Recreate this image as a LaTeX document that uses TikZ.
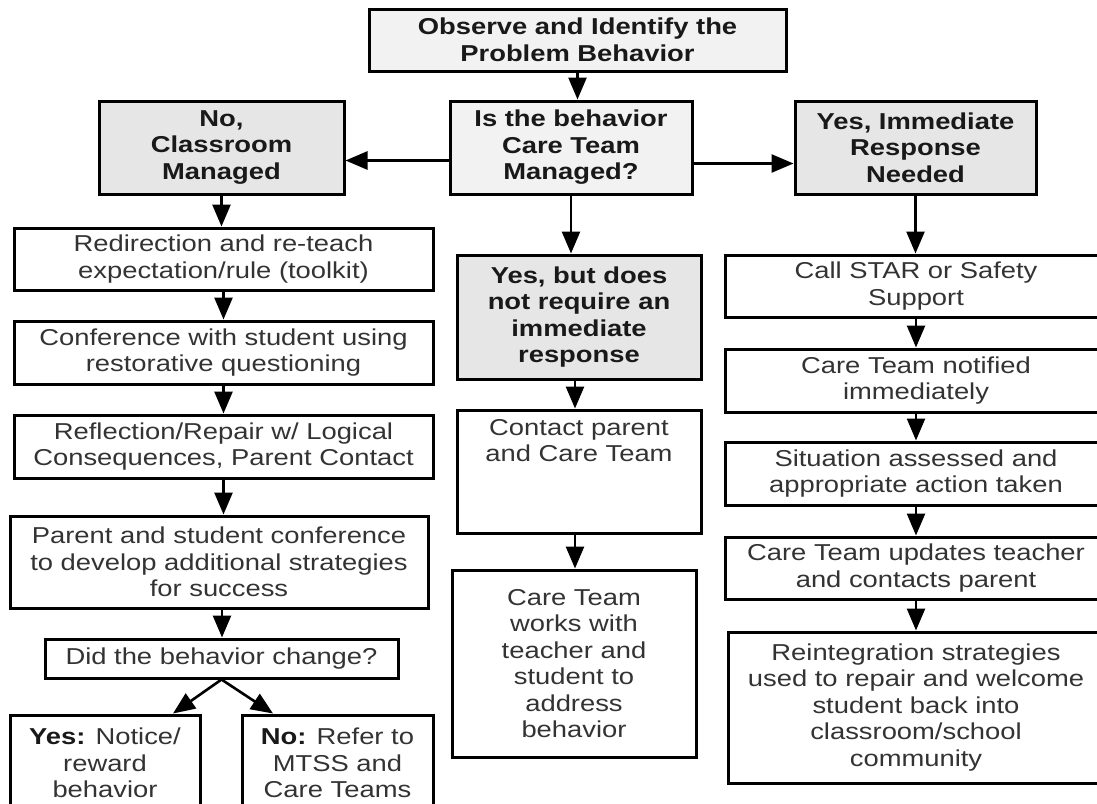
\documentclass[tikz,border=0pt]{standalone}
\usepackage{fontspec}
\setmainfont{Liberation Sans}[FakeStretch=1.19]
\usetikzlibrary{arrows.meta}
\definecolor{lightfill}{HTML}{F2F2F2}
\definecolor{midfill}{HTML}{E6E6E6}
\definecolor{txtgray}{HTML}{333333}
\begin{document}
\begin{tikzpicture}[x=1pt,y=-1pt,
  txt/.style={inner sep=0pt, align=center, text=txtgray, font=\fontsize{23}{26.5}\selectfont},
  box/.style={txt, draw=black, line width=3pt, fill=white},
  hbox/.style={box, fill=midfill, text=black!90, font=\fontsize{23}{26.5}\selectfont\bfseries},
  lbox/.style={hbox, fill=lightfill},
  arr/.style={line width=2.6pt, -{Triangle[length=22pt,width=18pt]}}
]
\useasboundingbox (0,0) rectangle (1097,803);
\clip (0,0) rectangle (1097,803);

% top and decision row
\node[lbox, minimum width=417pt, minimum height=62pt] (top) at (577.5,40) {Observe and Identify the\\Problem Behavior};
\node[lbox, minimum width=242pt, minimum height=93pt] (q) at (571,147.5) {Is the behavior\\Care Team\\Managed?};
\node[hbox, minimum width=245pt, minimum height=93pt] (no) at (221.5,147.5) {No,\\Classroom\\Managed};
\node[hbox, minimum width=241pt, minimum height=93pt] (yes) at (915.5,147.5) {Yes, Immediate\\Response\\Needed};

% left column
\node[box, minimum width=419pt, minimum height=62pt] (l1) at (223.5,259) {Redirection and re-teach\\expectation/rule (toolkit)};
\node[box, minimum width=419pt, minimum height=63pt] (l2) at (223.5,352.5) {Conference with student using\\restorative questioning};
\node[box, minimum width=419pt, minimum height=63pt] (l3) at (223.5,446.5) {Reflection/Repair w/ Logical\\Consequences, Parent Contact};
\node[box, minimum width=418pt, minimum height=92pt] (l4) at (219,562) {Parent and student conference\\to develop additional strategies\\for success};
\node[box, minimum width=353pt, minimum height=39pt] (l5) at (221.5,658.5) {Did the behavior change?};
\node[box, minimum width=190pt, minimum height=96pt] (l6) at (105,763) {\textbf{\color{black!90}Yes:} Notice/\\reward\\behavior};
\node[box, minimum width=191pt, minimum height=96pt] (l7) at (337.5,763) {\textbf{\color{black!90}No:} Refer to\\MTSS and\\Care Teams};

% centre column
\node[hbox, minimum width=244pt, minimum height=124pt] (c1) at (579,317) {Yes, but does\\not require an\\immediate\\response};
\node[box, minimum width=244pt, minimum height=123pt] (c2) at (579,471.5) {};
\node[txt, anchor=north] (c2t) at (579,419) {Contact parent\\and Care Team};
\node[box, minimum width=244pt, minimum height=187pt] (c3) at (574,663.5) {Care Team\\works with\\teacher and\\student to\\address\\behavior};

% right column
\node[box, minimum width=382pt, minimum height=62pt] (r1) at (916,286) {Call STAR or Safety\\Support};
\node[box, minimum width=382pt, minimum height=63pt] (r2) at (916,380.5) {Care Team notified\\immediately};
\node[box, minimum width=382pt, minimum height=63pt] (r3) at (916,473.5) {Situation assessed and\\appropriate action taken};
\node[box, minimum width=382pt, minimum height=62pt] (r4) at (916,568) {Care Team updates teacher\\and contacts parent};
\node[box, minimum width=376pt, minimum height=151pt] (r5) at (916,707.5) {Reintegration strategies\\used to repair and welcome\\student back into\\classroom/school\\community};

% connectors
\draw[arr] (top.south) -- (top.south |- q.north);
\draw[arr] ([yshift=-13pt]q.west) -- ([yshift=-13pt]no.east);
\draw[arr] ([yshift=-16pt]q.east) -- ([yshift=-16pt]yes.west);
\draw[arr] (no.south) -- (no.south |- l1.north);
\draw[arr] (q.south) -- (q.south |- c1.north);
\draw[arr] (yes.south) -- (yes.south |- r1.north);

\draw[arr] (l1.south) -- (l1.south |- l2.north);
\draw[arr] (l2.south) -- (l2.south |- l3.north);
\draw[arr] (l3.south) -- (l3.south |- l4.north);
\draw[arr] ([xshift=3pt]l4.south) -- ([xshift=3pt]l4.south |- l5.north);
\draw[arr] (l5.south) -- ([xshift=68pt]l6.north);
\draw[arr] (l5.south) -- ([xshift=-64.5pt]l7.north);

\draw[arr] ([xshift=-4pt]c1.south) -- ([xshift=-4pt]c1.south |- c2.north);
\draw[arr] ([xshift=-4pt]c2.south) -- ([xshift=-4pt]c2.south |- c3.north);

\draw[arr] (r1.south) -- (r1.south |- r2.north);
\draw[arr] (r2.south) -- (r2.south |- r3.north);
\draw[arr] (r3.south) -- (r3.south |- r4.north);
\draw[arr] (r4.south) -- (r4.south |- r5.north);
\end{tikzpicture}
\end{document}
